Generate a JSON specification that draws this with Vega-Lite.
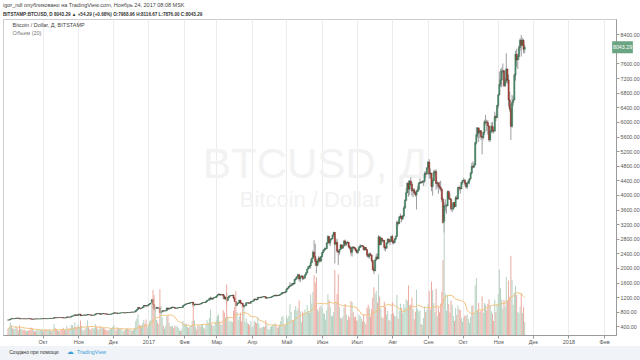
{
"$schema":"https://vega.github.io/schema/vega-lite/v6.json",
"width":613,"height":316,
"autosize":"none",
"padding":{"left":3,"top":19,"right":24,"bottom":25},
"background":"white",
"config":{"view":{"stroke":"#c9cdd2"},"font":"Liberation Sans","axis":{"labelOverlap":false},"axisY":{"labelOverlap":false,"labelFontSize":5.3,"labelColor":"#555","tickSize":3,"tickColor":"#9a9a9a","domainColor":"#9a9a9a","gridColor":"#ececec","labelPadding":1}},
"title":{"text":"igor_ndl опубликовано на TradingView.com, Ноябрь 24, 2017 08:08 MSK","subtitle":"BITSTAMP:BTCUSD, D 8043.29 ▲ +54.29 (+0.68%) O:7988.96 H:8116.67 L:7876.00 C:8043.29","anchor":"start","frame":"group","fontSize":5.5,"fontWeight":"normal","color":"#444","subtitleFontSize":4.6,"subtitleFontWeight":"bold","subtitleColor":"#333","offset":2,"subtitlePadding":4,"font":"Liberation Sans","subtitleFont":"Liberation Sans"},
"datasets":{"btc":[
{"d":"2016-09-01","o":573,"h":575,"l":569,"c":572,"v":4.1},
{"d":"2016-09-02","o":572,"h":577,"l":570,"c":575,"v":4.5},
{"d":"2016-09-03","o":575,"h":603,"l":574,"c":600,"v":7.8},
{"d":"2016-09-04","o":600,"h":612,"l":598,"c":610,"v":6.2},
{"d":"2016-09-05","o":610,"h":611,"l":602,"c":606,"v":4.3},
{"d":"2016-09-06","o":606,"h":612,"l":604,"c":610,"v":4.0},
{"d":"2016-09-07","o":610,"h":615,"l":607,"c":613,"v":3.9},
{"d":"2016-09-08","o":613,"h":628,"l":612,"c":627,"v":5.5},
{"d":"2016-09-09","o":627,"h":628,"l":619,"c":623,"v":4.2},
{"d":"2016-09-10","o":623,"h":626,"l":620,"c":624,"v":2.9},
{"d":"2016-09-11","o":624,"h":628,"l":598,"c":606,"v":6.1},
{"d":"2016-09-12","o":606,"h":610,"l":604,"c":608,"v":4.0},
{"d":"2016-09-13","o":608,"h":611,"l":606,"c":609,"v":3.6},
{"d":"2016-09-14","o":609,"h":612,"l":607,"c":608,"v":3.1},
{"d":"2016-09-15","o":608,"h":610,"l":604,"c":607,"v":3.3},
{"d":"2016-09-16","o":607,"h":609,"l":604,"c":606,"v":3.0},
{"d":"2016-09-17","o":606,"h":608,"l":603,"c":606,"v":2.4},
{"d":"2016-09-18","o":606,"h":612,"l":605,"c":611,"v":2.6},
{"d":"2016-09-19","o":611,"h":612,"l":607,"c":609,"v":3.2},
{"d":"2016-09-20","o":609,"h":611,"l":606,"c":608,"v":3.0},
{"d":"2016-09-21","o":608,"h":609,"l":594,"c":597,"v":4.8},
{"d":"2016-09-22","o":597,"h":599,"l":592,"c":595,"v":3.9},
{"d":"2016-09-23","o":595,"h":603,"l":594,"c":602,"v":3.1},
{"d":"2016-09-24","o":602,"h":604,"l":600,"c":601,"v":2.2},
{"d":"2016-09-25","o":601,"h":603,"l":598,"c":600,"v":2.3},
{"d":"2016-09-26","o":600,"h":606,"l":599,"c":604,"v":3.4},
{"d":"2016-09-27","o":604,"h":606,"l":602,"c":604,"v":3.0},
{"d":"2016-09-28","o":604,"h":606,"l":602,"c":604,"v":2.9},
{"d":"2016-09-29","o":604,"h":607,"l":602,"c":604,"v":3.3},
{"d":"2016-09-30","o":604,"h":608,"l":603,"c":606,"v":3.5},
{"d":"2016-10-01","o":606,"h":614,"l":605,"c":612,"v":3.0},
{"d":"2016-10-02","o":612,"h":613,"l":608,"c":610,"v":2.2},
{"d":"2016-10-03","o":610,"h":613,"l":609,"c":611,"v":3.1},
{"d":"2016-10-04","o":611,"h":612,"l":606,"c":609,"v":3.6},
{"d":"2016-10-05","o":609,"h":613,"l":608,"c":611,"v":3.4},
{"d":"2016-10-06","o":611,"h":613,"l":609,"c":611,"v":3.0},
{"d":"2016-10-07","o":611,"h":619,"l":610,"c":616,"v":3.8},
{"d":"2016-10-08","o":616,"h":620,"l":615,"c":618,"v":2.5},
{"d":"2016-10-09","o":618,"h":619,"l":614,"c":617,"v":2.3},
{"d":"2016-10-10","o":617,"h":619,"l":615,"c":617,"v":3.2},
{"d":"2016-10-11","o":617,"h":642,"l":616,"c":640,"v":6.9},
{"d":"2016-10-12","o":640,"h":641,"l":632,"c":637,"v":4.5},
{"d":"2016-10-13","o":637,"h":638,"l":632,"c":635,"v":3.9},
{"d":"2016-10-14","o":635,"h":641,"l":634,"c":639,"v":3.0},
{"d":"2016-10-15","o":639,"h":641,"l":634,"c":638,"v":2.6},
{"d":"2016-10-16","o":638,"h":643,"l":636,"c":641,"v":2.4},
{"d":"2016-10-17","o":641,"h":642,"l":636,"c":638,"v":3.5},
{"d":"2016-10-18","o":638,"h":640,"l":635,"c":637,"v":3.2},
{"d":"2016-10-19","o":637,"h":638,"l":626,"c":630,"v":4.6},
{"d":"2016-10-20","o":630,"h":632,"l":627,"c":629,"v":3.4},
{"d":"2016-10-21","o":629,"h":633,"l":628,"c":631,"v":2.8},
{"d":"2016-10-22","o":631,"h":660,"l":630,"c":657,"v":5.9},
{"d":"2016-10-23","o":657,"h":659,"l":650,"c":655,"v":3.8},
{"d":"2016-10-24","o":655,"h":656,"l":648,"c":651,"v":4.0},
{"d":"2016-10-25","o":651,"h":660,"l":649,"c":654,"v":4.6},
{"d":"2016-10-26","o":654,"h":678,"l":652,"c":675,"v":6.4},
{"d":"2016-10-27","o":675,"h":688,"l":673,"c":685,"v":6.1},
{"d":"2016-10-28","o":685,"h":690,"l":682,"c":688,"v":4.7},
{"d":"2016-10-29","o":688,"h":720,"l":686,"c":715,"v":7.9},
{"d":"2016-10-30","o":715,"h":716,"l":696,"c":700,"v":5.0},
{"d":"2016-10-31","o":700,"h":705,"l":693,"c":698,"v":5.2},
{"d":"2016-11-01","o":698,"h":731,"l":696,"c":729,"v":6.6},
{"d":"2016-11-02","o":729,"h":738,"l":726,"c":732,"v":5.3},
{"d":"2016-11-03","o":732,"h":743,"l":684,"c":690,"v":9.1},
{"d":"2016-11-04","o":690,"h":705,"l":686,"c":703,"v":5.7},
{"d":"2016-11-05","o":703,"h":707,"l":699,"c":704,"v":3.0},
{"d":"2016-11-06","o":704,"h":713,"l":701,"c":712,"v":2.8},
{"d":"2016-11-07","o":712,"h":713,"l":701,"c":706,"v":4.1},
{"d":"2016-11-08","o":706,"h":713,"l":704,"c":710,"v":4.8},
{"d":"2016-11-09","o":710,"h":740,"l":705,"c":722,"v":9.4},
{"d":"2016-11-10","o":722,"h":724,"l":711,"c":714,"v":4.9},
{"d":"2016-11-11","o":714,"h":718,"l":711,"c":715,"v":3.6},
{"d":"2016-11-12","o":715,"h":716,"l":702,"c":704,"v":3.4},
{"d":"2016-11-13","o":704,"h":706,"l":686,"c":701,"v":4.4},
{"d":"2016-11-14","o":701,"h":709,"l":698,"c":706,"v":4.1},
{"d":"2016-11-15","o":706,"h":716,"l":704,"c":712,"v":4.2},
{"d":"2016-11-16","o":712,"h":745,"l":710,"c":742,"v":6.8},
{"d":"2016-11-17","o":742,"h":748,"l":734,"c":740,"v":5.3},
{"d":"2016-11-18","o":740,"h":752,"l":737,"c":750,"v":3.9},
{"d":"2016-11-19","o":750,"h":755,"l":744,"c":751,"v":3.1},
{"d":"2016-11-20","o":751,"h":752,"l":718,"c":730,"v":5.6},
{"d":"2016-11-21","o":730,"h":740,"l":727,"c":738,"v":4.1},
{"d":"2016-11-22","o":738,"h":752,"l":735,"c":749,"v":5.0},
{"d":"2016-11-23","o":749,"h":750,"l":738,"c":743,"v":4.3},
{"d":"2016-11-24","o":743,"h":745,"l":732,"c":741,"v":4.0},
{"d":"2016-11-25","o":741,"h":743,"l":733,"c":738,"v":3.1},
{"d":"2016-11-26","o":738,"h":740,"l":724,"c":733,"v":3.0},
{"d":"2016-11-27","o":733,"h":736,"l":722,"c":727,"v":2.9},
{"d":"2016-11-28","o":727,"h":736,"l":725,"c":732,"v":3.5},
{"d":"2016-11-29","o":732,"h":737,"l":728,"c":732,"v":3.6},
{"d":"2016-11-30","o":732,"h":745,"l":730,"c":741,"v":4.4},
{"d":"2016-12-01","o":741,"h":756,"l":739,"c":752,"v":5.1},
{"d":"2016-12-02","o":752,"h":775,"l":750,"c":770,"v":6.4},
{"d":"2016-12-03","o":770,"h":772,"l":755,"c":763,"v":3.5},
{"d":"2016-12-04","o":763,"h":768,"l":758,"c":766,"v":2.9},
{"d":"2016-12-05","o":766,"h":768,"l":748,"c":754,"v":4.8},
{"d":"2016-12-06","o":754,"h":760,"l":751,"c":758,"v":3.9},
{"d":"2016-12-07","o":758,"h":767,"l":755,"c":765,"v":4.1},
{"d":"2016-12-08","o":765,"h":771,"l":762,"c":770,"v":4.0},
{"d":"2016-12-09","o":770,"h":774,"l":767,"c":772,"v":3.4},
{"d":"2016-12-10","o":772,"h":776,"l":770,"c":774,"v":2.4},
{"d":"2016-12-11","o":774,"h":775,"l":762,"c":768,"v":2.9},
{"d":"2016-12-12","o":768,"h":772,"l":765,"c":768,"v":3.6},
{"d":"2016-12-13","o":768,"h":782,"l":766,"c":780,"v":4.5},
{"d":"2016-12-14","o":780,"h":781,"l":772,"c":777,"v":3.9},
{"d":"2016-12-15","o":777,"h":780,"l":772,"c":776,"v":3.5},
{"d":"2016-12-16","o":776,"h":786,"l":775,"c":783,"v":3.3},
{"d":"2016-12-17","o":783,"h":792,"l":781,"c":790,"v":3.0},
{"d":"2016-12-18","o":790,"h":793,"l":785,"c":789,"v":2.7},
{"d":"2016-12-19","o":789,"h":792,"l":786,"c":790,"v":3.3},
{"d":"2016-12-20","o":790,"h":799,"l":788,"c":795,"v":4.6},
{"d":"2016-12-21","o":795,"h":835,"l":794,"c":831,"v":8.9},
{"d":"2016-12-22","o":831,"h":870,"l":825,"c":860,"v":10.5},
{"d":"2016-12-23","o":860,"h":925,"l":858,"c":918,"v":13.2},
{"d":"2016-12-24","o":918,"h":920,"l":881,"c":894,"v":6.5},
{"d":"2016-12-25","o":894,"h":896,"l":855,"c":893,"v":6.2},
{"d":"2016-12-26","o":893,"h":908,"l":888,"c":901,"v":5.8},
{"d":"2016-12-27","o":901,"h":935,"l":898,"c":924,"v":7.4},
{"d":"2016-12-28","o":924,"h":975,"l":922,"c":972,"v":9.5},
{"d":"2016-12-29","o":972,"h":977,"l":955,"c":970,"v":7.2},
{"d":"2016-12-30","o":970,"h":972,"l":920,"c":958,"v":9.8},
{"d":"2016-12-31","o":958,"h":968,"l":950,"c":964,"v":4.9},
{"d":"2017-01-01","o":964,"h":1000,"l":962,"c":997,"v":6.3},
{"d":"2017-01-02","o":997,"h":1030,"l":993,"c":1018,"v":8.6},
{"d":"2017-01-03","o":1018,"h":1035,"l":1010,"c":1030,"v":9.5},
{"d":"2017-01-04","o":1030,"h":1140,"l":1028,"c":1130,"v":20.5},
{"d":"2017-01-05","o":1130,"h":1150,"l":870,"c":995,"v":28.5},
{"d":"2017-01-06","o":995,"h":1000,"l":850,"c":890,"v":25.1},
{"d":"2017-01-07","o":890,"h":905,"l":810,"c":900,"v":17.8},
{"d":"2017-01-08","o":900,"h":935,"l":880,"c":910,"v":9.6},
{"d":"2017-01-09","o":910,"h":913,"l":880,"c":900,"v":7.9},
{"d":"2017-01-10","o":900,"h":910,"l":890,"c":905,"v":6.8},
{"d":"2017-01-11","o":905,"h":918,"l":750,"c":780,"v":29.0},
{"d":"2017-01-12","o":780,"h":820,"l":740,"c":805,"v":18.4},
{"d":"2017-01-13","o":805,"h":830,"l":770,"c":825,"v":11.2},
{"d":"2017-01-14","o":825,"h":835,"l":805,"c":820,"v":5.9},
{"d":"2017-01-15","o":820,"h":823,"l":808,"c":820,"v":4.0},
{"d":"2017-01-16","o":820,"h":833,"l":816,"c":828,"v":5.5},
{"d":"2017-01-17","o":828,"h":910,"l":825,"c":903,"v":11.8},
{"d":"2017-01-18","o":903,"h":905,"l":850,"c":870,"v":12.1},
{"d":"2017-01-19","o":870,"h":905,"l":868,"c":898,"v":7.6},
{"d":"2017-01-20","o":898,"h":900,"l":880,"c":891,"v":5.4},
{"d":"2017-01-21","o":891,"h":925,"l":888,"c":920,"v":5.7},
{"d":"2017-01-22","o":920,"h":938,"l":897,"c":925,"v":5.9},
{"d":"2017-01-23","o":925,"h":928,"l":910,"c":916,"v":4.3},
{"d":"2017-01-24","o":916,"h":920,"l":888,"c":894,"v":6.0},
{"d":"2017-01-25","o":894,"h":900,"l":885,"c":895,"v":5.1},
{"d":"2017-01-26","o":895,"h":918,"l":892,"c":901,"v":5.8},
{"d":"2017-01-27","o":901,"h":915,"l":897,"c":910,"v":4.4},
{"d":"2017-01-28","o":910,"h":920,"l":905,"c":917,"v":2.9},
{"d":"2017-01-29","o":917,"h":918,"l":905,"c":912,"v":2.6},
{"d":"2017-01-30","o":912,"h":922,"l":910,"c":918,"v":3.7},
{"d":"2017-01-31","o":918,"h":970,"l":915,"c":965,"v":9.0},
{"d":"2017-02-01","o":965,"h":990,"l":960,"c":985,"v":7.3},
{"d":"2017-02-02","o":985,"h":1010,"l":980,"c":1005,"v":6.9},
{"d":"2017-02-03","o":1005,"h":1022,"l":1000,"c":1015,"v":7.1},
{"d":"2017-02-04","o":1015,"h":1040,"l":1010,"c":1030,"v":5.0},
{"d":"2017-02-05","o":1030,"h":1035,"l":1010,"c":1025,"v":4.4},
{"d":"2017-02-06","o":1025,"h":1050,"l":1020,"c":1045,"v":5.6},
{"d":"2017-02-07","o":1045,"h":1058,"l":1040,"c":1052,"v":6.0},
{"d":"2017-02-08","o":1052,"h":1070,"l":1035,"c":1060,"v":8.7},
{"d":"2017-02-09","o":1060,"h":1065,"l":920,"c":980,"v":19.3},
{"d":"2017-02-10","o":980,"h":1000,"l":960,"c":995,"v":9.1},
{"d":"2017-02-11","o":995,"h":1015,"l":990,"c":1010,"v":5.0},
{"d":"2017-02-12","o":1010,"h":1012,"l":992,"c":1000,"v":3.5},
{"d":"2017-02-13","o":1000,"h":1005,"l":980,"c":995,"v":5.8},
{"d":"2017-02-14","o":995,"h":1015,"l":990,"c":1012,"v":6.1},
{"d":"2017-02-15","o":1012,"h":1015,"l":1004,"c":1010,"v":5.2},
{"d":"2017-02-16","o":1010,"h":1040,"l":1008,"c":1035,"v":6.9},
{"d":"2017-02-17","o":1035,"h":1055,"l":1030,"c":1050,"v":6.7},
{"d":"2017-02-18","o":1050,"h":1065,"l":1045,"c":1055,"v":4.6},
{"d":"2017-02-19","o":1055,"h":1058,"l":1040,"c":1050,"v":3.9},
{"d":"2017-02-20","o":1050,"h":1085,"l":1045,"c":1080,"v":6.2},
{"d":"2017-02-21","o":1080,"h":1120,"l":1075,"c":1115,"v":9.4},
{"d":"2017-02-22","o":1115,"h":1125,"l":1100,"c":1118,"v":7.5},
{"d":"2017-02-23","o":1118,"h":1175,"l":1112,"c":1170,"v":10.8},
{"d":"2017-02-24","o":1170,"h":1210,"l":1110,"c":1175,"v":16.2},
{"d":"2017-02-25","o":1175,"h":1180,"l":1135,"c":1145,"v":6.8},
{"d":"2017-02-26","o":1145,"h":1178,"l":1120,"c":1175,"v":5.5},
{"d":"2017-02-27","o":1175,"h":1195,"l":1170,"c":1190,"v":5.9},
{"d":"2017-02-28","o":1190,"h":1210,"l":1180,"c":1190,"v":8.0},
{"d":"2017-03-01","o":1190,"h":1230,"l":1185,"c":1225,"v":9.7},
{"d":"2017-03-02","o":1225,"h":1270,"l":1220,"c":1260,"v":12.0},
{"d":"2017-03-03","o":1260,"h":1295,"l":1255,"c":1285,"v":13.1},
{"d":"2017-03-04","o":1285,"h":1290,"l":1240,"c":1265,"v":8.4},
{"d":"2017-03-05","o":1265,"h":1275,"l":1230,"c":1270,"v":6.3},
{"d":"2017-03-06","o":1270,"h":1280,"l":1260,"c":1275,"v":6.9},
{"d":"2017-03-07","o":1275,"h":1278,"l":1150,"c":1235,"v":15.6},
{"d":"2017-03-08","o":1235,"h":1245,"l":1135,"c":1150,"v":14.2},
{"d":"2017-03-09","o":1150,"h":1200,"l":1140,"c":1195,"v":11.0},
{"d":"2017-03-10","o":1195,"h":1330,"l":980,"c":1110,"v":32.0},
{"d":"2017-03-11","o":1110,"h":1200,"l":1100,"c":1180,"v":11.7},
{"d":"2017-03-12","o":1180,"h":1235,"l":1175,"c":1230,"v":8.4},
{"d":"2017-03-13","o":1230,"h":1245,"l":1215,"c":1240,"v":9.2},
{"d":"2017-03-14","o":1240,"h":1255,"l":1225,"c":1245,"v":8.5},
{"d":"2017-03-15","o":1245,"h":1260,"l":1240,"c":1255,"v":8.1},
{"d":"2017-03-16","o":1255,"h":1260,"l":1150,"c":1175,"v":15.4},
{"d":"2017-03-17","o":1175,"h":1180,"l":1070,"c":1080,"v":17.9},
{"d":"2017-03-18","o":1080,"h":1095,"l":940,"c":970,"v":28.0},
{"d":"2017-03-19","o":970,"h":1060,"l":965,"c":1020,"v":14.6},
{"d":"2017-03-20","o":1020,"h":1055,"l":1010,"c":1040,"v":9.5},
{"d":"2017-03-21","o":1040,"h":1120,"l":1035,"c":1115,"v":11.8},
{"d":"2017-03-22","o":1115,"h":1118,"l":1000,"c":1040,"v":14.3},
{"d":"2017-03-23","o":1040,"h":1050,"l":1020,"c":1030,"v":8.6},
{"d":"2017-03-24","o":1030,"h":1035,"l":920,"c":935,"v":18.5},
{"d":"2017-03-25","o":935,"h":980,"l":890,"c":965,"v":17.0},
{"d":"2017-03-26","o":965,"h":1000,"l":950,"c":970,"v":8.2},
{"d":"2017-03-27","o":970,"h":1050,"l":965,"c":1045,"v":10.4},
{"d":"2017-03-28","o":1045,"h":1060,"l":1030,"c":1045,"v":7.8},
{"d":"2017-03-29","o":1045,"h":1055,"l":1015,"c":1040,"v":6.9},
{"d":"2017-03-30","o":1040,"h":1045,"l":1020,"c":1035,"v":6.1},
{"d":"2017-03-31","o":1035,"h":1085,"l":1030,"c":1080,"v":8.7},
{"d":"2017-04-01","o":1080,"h":1095,"l":1075,"c":1085,"v":4.9},
{"d":"2017-04-02","o":1085,"h":1105,"l":1080,"c":1100,"v":5.6},
{"d":"2017-04-03","o":1100,"h":1150,"l":1095,"c":1145,"v":9.0},
{"d":"2017-04-04","o":1145,"h":1160,"l":1125,"c":1140,"v":8.1},
{"d":"2017-04-05","o":1140,"h":1145,"l":1110,"c":1130,"v":7.5},
{"d":"2017-04-06","o":1130,"h":1200,"l":1125,"c":1190,"v":11.2},
{"d":"2017-04-07","o":1190,"h":1200,"l":1170,"c":1195,"v":7.3},
{"d":"2017-04-08","o":1195,"h":1198,"l":1170,"c":1185,"v":4.6},
{"d":"2017-04-09","o":1185,"h":1210,"l":1180,"c":1200,"v":4.5},
{"d":"2017-04-10","o":1200,"h":1212,"l":1195,"c":1205,"v":5.1},
{"d":"2017-04-11","o":1205,"h":1225,"l":1200,"c":1215,"v":5.4},
{"d":"2017-04-12","o":1215,"h":1220,"l":1200,"c":1210,"v":5.0},
{"d":"2017-04-13","o":1210,"h":1215,"l":1160,"c":1170,"v":9.3},
{"d":"2017-04-14","o":1170,"h":1190,"l":1165,"c":1180,"v":6.4},
{"d":"2017-04-15","o":1180,"h":1190,"l":1170,"c":1180,"v":3.8},
{"d":"2017-04-16","o":1180,"h":1190,"l":1175,"c":1185,"v":3.1},
{"d":"2017-04-17","o":1185,"h":1200,"l":1180,"c":1195,"v":5.0},
{"d":"2017-04-18","o":1195,"h":1215,"l":1190,"c":1210,"v":5.6},
{"d":"2017-04-19","o":1210,"h":1230,"l":1205,"c":1225,"v":6.2},
{"d":"2017-04-20","o":1225,"h":1250,"l":1220,"c":1245,"v":7.0},
{"d":"2017-04-21","o":1245,"h":1265,"l":1240,"c":1255,"v":7.4},
{"d":"2017-04-22","o":1255,"h":1260,"l":1215,"c":1235,"v":6.1},
{"d":"2017-04-23","o":1235,"h":1255,"l":1230,"c":1250,"v":4.4},
{"d":"2017-04-24","o":1250,"h":1255,"l":1235,"c":1245,"v":5.3},
{"d":"2017-04-25","o":1245,"h":1270,"l":1240,"c":1265,"v":6.6},
{"d":"2017-04-26","o":1265,"h":1295,"l":1260,"c":1285,"v":8.9},
{"d":"2017-04-27","o":1285,"h":1330,"l":1280,"c":1320,"v":11.6},
{"d":"2017-04-28","o":1320,"h":1345,"l":1290,"c":1325,"v":11.9},
{"d":"2017-04-29","o":1325,"h":1330,"l":1305,"c":1320,"v":6.0},
{"d":"2017-04-30","o":1320,"h":1355,"l":1310,"c":1350,"v":6.5},
{"d":"2017-05-01","o":1350,"h":1440,"l":1345,"c":1420,"v":12.4},
{"d":"2017-05-02","o":1420,"h":1460,"l":1405,"c":1450,"v":10.5},
{"d":"2017-05-03","o":1450,"h":1505,"l":1440,"c":1495,"v":12.0},
{"d":"2017-05-04","o":1495,"h":1610,"l":1480,"c":1510,"v":19.5},
{"d":"2017-05-05","o":1510,"h":1560,"l":1490,"c":1525,"v":14.6},
{"d":"2017-05-06","o":1525,"h":1580,"l":1520,"c":1570,"v":9.7},
{"d":"2017-05-07","o":1570,"h":1590,"l":1530,"c":1560,"v":9.2},
{"d":"2017-05-08","o":1560,"h":1690,"l":1555,"c":1685,"v":15.8},
{"d":"2017-05-09","o":1685,"h":1745,"l":1650,"c":1700,"v":18.3},
{"d":"2017-05-10","o":1700,"h":1770,"l":1690,"c":1760,"v":15.4},
{"d":"2017-05-11","o":1760,"h":1840,"l":1750,"c":1815,"v":16.7},
{"d":"2017-05-12","o":1815,"h":1830,"l":1630,"c":1695,"v":21.8},
{"d":"2017-05-13","o":1695,"h":1780,"l":1610,"c":1760,"v":15.0},
{"d":"2017-05-14","o":1760,"h":1800,"l":1740,"c":1780,"v":8.1},
{"d":"2017-05-15","o":1780,"h":1785,"l":1660,"c":1715,"v":14.9},
{"d":"2017-05-16","o":1715,"h":1765,"l":1670,"c":1720,"v":13.7},
{"d":"2017-05-17","o":1720,"h":1830,"l":1715,"c":1805,"v":16.1},
{"d":"2017-05-18","o":1805,"h":1890,"l":1790,"c":1865,"v":14.3},
{"d":"2017-05-19","o":1865,"h":1980,"l":1860,"c":1970,"v":18.8},
{"d":"2017-05-20","o":1970,"h":2050,"l":1965,"c":2040,"v":15.2},
{"d":"2017-05-21","o":2040,"h":2080,"l":1980,"c":2050,"v":14.0},
{"d":"2017-05-22","o":2050,"h":2230,"l":1980,"c":2140,"v":25.6},
{"d":"2017-05-23","o":2140,"h":2280,"l":2130,"c":2260,"v":19.9},
{"d":"2017-05-24","o":2260,"h":2480,"l":2250,"c":2430,"v":27.4},
{"d":"2017-05-25","o":2430,"h":2760,"l":2320,"c":2310,"v":38.0},
{"d":"2017-05-26","o":2310,"h":2660,"l":2060,"c":2180,"v":33.2},
{"d":"2017-05-27","o":2180,"h":2250,"l":1850,"c":2070,"v":36.5},
{"d":"2017-05-28","o":2070,"h":2230,"l":2050,"c":2180,"v":16.3},
{"d":"2017-05-29","o":2180,"h":2330,"l":2130,"c":2270,"v":15.1},
{"d":"2017-05-30","o":2270,"h":2300,"l":2150,"c":2190,"v":17.5},
{"d":"2017-05-31","o":2190,"h":2330,"l":2160,"c":2310,"v":18.9},
{"d":"2017-06-01","o":2310,"h":2440,"l":2300,"c":2420,"v":17.2},
{"d":"2017-06-02","o":2420,"h":2500,"l":2400,"c":2490,"v":14.1},
{"d":"2017-06-03","o":2490,"h":2560,"l":2450,"c":2520,"v":13.3},
{"d":"2017-06-04","o":2520,"h":2550,"l":2480,"c":2525,"v":9.8},
{"d":"2017-06-05","o":2525,"h":2700,"l":2520,"c":2680,"v":15.6},
{"d":"2017-06-06","o":2680,"h":2900,"l":2670,"c":2860,"v":25.8},
{"d":"2017-06-07","o":2860,"h":2875,"l":2640,"c":2690,"v":22.0},
{"d":"2017-06-08","o":2690,"h":2800,"l":2600,"c":2780,"v":17.5},
{"d":"2017-06-09","o":2780,"h":2820,"l":2750,"c":2800,"v":12.4},
{"d":"2017-06-10","o":2800,"h":2910,"l":2790,"c":2900,"v":11.8},
{"d":"2017-06-11","o":2900,"h":2995,"l":2860,"c":2970,"v":14.6},
{"d":"2017-06-12","o":2970,"h":2980,"l":2120,"c":2650,"v":41.2},
{"d":"2017-06-13","o":2650,"h":2780,"l":2640,"c":2700,"v":20.4},
{"d":"2017-06-14","o":2700,"h":2800,"l":2410,"c":2460,"v":26.1},
{"d":"2017-06-15","o":2460,"h":2480,"l":2080,"c":2430,"v":38.5},
{"d":"2017-06-16","o":2430,"h":2520,"l":2350,"c":2500,"v":17.8},
{"d":"2017-06-17","o":2500,"h":2650,"l":2490,"c":2630,"v":11.0},
{"d":"2017-06-18","o":2630,"h":2650,"l":2520,"c":2540,"v":10.3},
{"d":"2017-06-19","o":2540,"h":2620,"l":2530,"c":2600,"v":11.7},
{"d":"2017-06-20","o":2600,"h":2760,"l":2590,"c":2740,"v":17.4},
{"d":"2017-06-21","o":2740,"h":2780,"l":2590,"c":2650,"v":19.6},
{"d":"2017-06-22","o":2650,"h":2710,"l":2600,"c":2690,"v":13.0},
{"d":"2017-06-23","o":2690,"h":2740,"l":2670,"c":2700,"v":9.4},
{"d":"2017-06-24","o":2700,"h":2710,"l":2540,"c":2580,"v":11.8},
{"d":"2017-06-25","o":2580,"h":2630,"l":2500,"c":2540,"v":11.1},
{"d":"2017-06-26","o":2540,"h":2560,"l":2340,"c":2430,"v":21.5},
{"d":"2017-06-27","o":2430,"h":2580,"l":2310,"c":2570,"v":20.9},
{"d":"2017-06-28","o":2570,"h":2600,"l":2500,"c":2560,"v":14.4},
{"d":"2017-06-29","o":2560,"h":2580,"l":2510,"c":2540,"v":11.3},
{"d":"2017-06-30","o":2540,"h":2560,"l":2460,"c":2470,"v":11.5},
{"d":"2017-07-01","o":2470,"h":2520,"l":2400,"c":2420,"v":9.0},
{"d":"2017-07-02","o":2420,"h":2510,"l":2380,"c":2480,"v":9.4},
{"d":"2017-07-03","o":2480,"h":2600,"l":2470,"c":2560,"v":12.8},
{"d":"2017-07-04","o":2560,"h":2650,"l":2550,"c":2600,"v":11.9},
{"d":"2017-07-05","o":2600,"h":2630,"l":2560,"c":2610,"v":10.5},
{"d":"2017-07-06","o":2610,"h":2620,"l":2580,"c":2600,"v":8.7},
{"d":"2017-07-07","o":2600,"h":2605,"l":2480,"c":2500,"v":12.6},
{"d":"2017-07-08","o":2500,"h":2570,"l":2460,"c":2560,"v":8.3},
{"d":"2017-07-09","o":2560,"h":2570,"l":2490,"c":2500,"v":6.9},
{"d":"2017-07-10","o":2500,"h":2510,"l":2300,"c":2350,"v":17.2},
{"d":"2017-07-11","o":2350,"h":2410,"l":2270,"c":2310,"v":19.1},
{"d":"2017-07-12","o":2310,"h":2420,"l":2250,"c":2380,"v":17.3},
{"d":"2017-07-13","o":2380,"h":2420,"l":2330,"c":2350,"v":11.5},
{"d":"2017-07-14","o":2350,"h":2360,"l":2150,"c":2200,"v":16.4},
{"d":"2017-07-15","o":2200,"h":2210,"l":1940,"c":1950,"v":23.7},
{"d":"2017-07-16","o":1950,"h":2050,"l":1830,"c":1920,"v":30.3},
{"d":"2017-07-17","o":1920,"h":2240,"l":1910,"c":2220,"v":25.8},
{"d":"2017-07-18","o":2220,"h":2390,"l":2200,"c":2300,"v":27.9},
{"d":"2017-07-19","o":2300,"h":2400,"l":2250,"c":2250,"v":20.6},
{"d":"2017-07-20","o":2250,"h":2900,"l":2240,"c":2850,"v":38.4},
{"d":"2017-07-21","o":2850,"h":2860,"l":2620,"c":2640,"v":24.3},
{"d":"2017-07-22","o":2640,"h":2860,"l":2620,"c":2810,"v":16.8},
{"d":"2017-07-23","o":2810,"h":2820,"l":2690,"c":2740,"v":11.2},
{"d":"2017-07-24","o":2740,"h":2780,"l":2700,"c":2750,"v":10.6},
{"d":"2017-07-25","o":2750,"h":2770,"l":2480,"c":2560,"v":21.1},
{"d":"2017-07-26","o":2560,"h":2610,"l":2450,"c":2540,"v":17.9},
{"d":"2017-07-27","o":2540,"h":2700,"l":2530,"c":2680,"v":12.9},
{"d":"2017-07-28","o":2680,"h":2810,"l":2660,"c":2790,"v":15.2},
{"d":"2017-07-29","o":2790,"h":2800,"l":2690,"c":2720,"v":9.5},
{"d":"2017-07-30","o":2720,"h":2760,"l":2620,"c":2740,"v":8.9},
{"d":"2017-07-31","o":2740,"h":2880,"l":2720,"c":2860,"v":13.3},
{"d":"2017-08-01","o":2860,"h":2910,"l":2650,"c":2710,"v":20.8},
{"d":"2017-08-02","o":2710,"h":2760,"l":2650,"c":2690,"v":13.5},
{"d":"2017-08-03","o":2690,"h":2810,"l":2680,"c":2790,"v":12.1},
{"d":"2017-08-04","o":2790,"h":2890,"l":2760,"c":2860,"v":11.7},
{"d":"2017-08-05","o":2860,"h":3300,"l":2850,"c":3250,"v":25.4},
{"d":"2017-08-06","o":3250,"h":3270,"l":3160,"c":3220,"v":10.5},
{"d":"2017-08-07","o":3220,"h":3420,"l":3200,"c":3390,"v":15.3},
{"d":"2017-08-08","o":3390,"h":3490,"l":3350,"c":3420,"v":19.7},
{"d":"2017-08-09","o":3420,"h":3430,"l":3250,"c":3340,"v":17.2},
{"d":"2017-08-10","o":3340,"h":3450,"l":3320,"c":3420,"v":14.1},
{"d":"2017-08-11","o":3420,"h":3700,"l":3400,"c":3640,"v":19.6},
{"d":"2017-08-12","o":3640,"h":3890,"l":3620,"c":3850,"v":17.4},
{"d":"2017-08-13","o":3850,"h":4180,"l":3840,"c":4060,"v":22.5},
{"d":"2017-08-14","o":4060,"h":4340,"l":4050,"c":4320,"v":21.6},
{"d":"2017-08-15","o":4320,"h":4400,"l":3950,"c":4160,"v":31.4},
{"d":"2017-08-16","o":4160,"h":4400,"l":3990,"c":4380,"v":18.9},
{"d":"2017-08-17","o":4380,"h":4480,"l":4250,"c":4290,"v":19.3},
{"d":"2017-08-18","o":4290,"h":4360,"l":3980,"c":4110,"v":23.8},
{"d":"2017-08-19","o":4110,"h":4190,"l":3940,"c":4140,"v":16.4},
{"d":"2017-08-20","o":4140,"h":4180,"l":4030,"c":4060,"v":9.9},
{"d":"2017-08-21","o":4060,"h":4100,"l":3950,"c":4000,"v":14.7},
{"d":"2017-08-22","o":4000,"h":4140,"l":3600,"c":4090,"v":28.6},
{"d":"2017-08-23","o":4090,"h":4250,"l":4080,"c":4140,"v":16.3},
{"d":"2017-08-24","o":4140,"h":4350,"l":4130,"c":4320,"v":14.8},
{"d":"2017-08-25","o":4320,"h":4460,"l":4300,"c":4350,"v":15.5},
{"d":"2017-08-26","o":4350,"h":4380,"l":4300,"c":4340,"v":6.9},
{"d":"2017-08-27","o":4340,"h":4400,"l":4320,"c":4370,"v":6.4},
{"d":"2017-08-28","o":4370,"h":4390,"l":4250,"c":4380,"v":10.8},
{"d":"2017-08-29","o":4380,"h":4640,"l":4330,"c":4580,"v":18.2},
{"d":"2017-08-30","o":4580,"h":4640,"l":4470,"c":4570,"v":14.6},
{"d":"2017-08-31","o":4570,"h":4760,"l":4560,"c":4740,"v":15.9},
{"d":"2017-09-01","o":4740,"h":4930,"l":4720,"c":4900,"v":19.5},
{"d":"2017-09-02","o":4900,"h":4980,"l":4450,"c":4570,"v":27.8},
{"d":"2017-09-03","o":4570,"h":4720,"l":4440,"c":4600,"v":16.1},
{"d":"2017-09-04","o":4600,"h":4600,"l":4100,"c":4230,"v":33.7},
{"d":"2017-09-05","o":4230,"h":4460,"l":3980,"c":4390,"v":28.4},
{"d":"2017-09-06","o":4390,"h":4680,"l":4380,"c":4620,"v":20.3},
{"d":"2017-09-07","o":4620,"h":4690,"l":4540,"c":4640,"v":14.6},
{"d":"2017-09-08","o":4640,"h":4700,"l":4140,"c":4310,"v":29.2},
{"d":"2017-09-09","o":4310,"h":4380,"l":4190,"c":4330,"v":11.8},
{"d":"2017-09-10","o":4330,"h":4330,"l":4030,"c":4250,"v":17.5},
{"d":"2017-09-11","o":4250,"h":4360,"l":4150,"c":4210,"v":14.4},
{"d":"2017-09-12","o":4210,"h":4390,"l":4100,"c":4160,"v":19.9},
{"d":"2017-09-13","o":4160,"h":4170,"l":3800,"c":3880,"v":27.3},
{"d":"2017-09-14","o":3880,"h":3930,"l":3220,"c":3240,"v":47.5},
{"d":"2017-09-15","o":3240,"h":3800,"l":2970,"c":3700,"v":72.0},
{"d":"2017-09-16","o":3700,"h":3880,"l":3550,"c":3700,"v":26.2},
{"d":"2017-09-17","o":3700,"h":3760,"l":3480,"c":3700,"v":15.4},
{"d":"2017-09-18","o":3700,"h":4120,"l":3690,"c":4090,"v":25.3},
{"d":"2017-09-19","o":4090,"h":4120,"l":3860,"c":3910,"v":19.6},
{"d":"2017-09-20","o":3910,"h":4050,"l":3860,"c":3880,"v":14.3},
{"d":"2017-09-21","o":3880,"h":3900,"l":3560,"c":3620,"v":21.8},
{"d":"2017-09-22","o":3620,"h":3760,"l":3520,"c":3620,"v":19.2},
{"d":"2017-09-23","o":3620,"h":3810,"l":3580,"c":3790,"v":12.1},
{"d":"2017-09-24","o":3790,"h":3790,"l":3640,"c":3680,"v":8.9},
{"d":"2017-09-25","o":3680,"h":3970,"l":3670,"c":3920,"v":17.1},
{"d":"2017-09-26","o":3920,"h":3990,"l":3860,"c":3890,"v":12.7},
{"d":"2017-09-27","o":3890,"h":4220,"l":3880,"c":4200,"v":18.6},
{"d":"2017-09-28","o":4200,"h":4260,"l":4120,"c":4190,"v":16.3},
{"d":"2017-09-29","o":4190,"h":4220,"l":4030,"c":4170,"v":15.8},
{"d":"2017-09-30","o":4170,"h":4360,"l":4150,"c":4340,"v":10.6},
{"d":"2017-10-01","o":4340,"h":4410,"l":4280,"c":4400,"v":8.6},
{"d":"2017-10-02","o":4400,"h":4470,"l":4370,"c":4400,"v":10.9},
{"d":"2017-10-03","o":4400,"h":4430,"l":4250,"c":4320,"v":12.4},
{"d":"2017-10-04","o":4320,"h":4350,"l":4180,"c":4220,"v":11.9},
{"d":"2017-10-05","o":4220,"h":4350,"l":4160,"c":4320,"v":13.2},
{"d":"2017-10-06","o":4320,"h":4420,"l":4310,"c":4370,"v":10.2},
{"d":"2017-10-07","o":4370,"h":4460,"l":4290,"c":4440,"v":7.8},
{"d":"2017-10-08","o":4440,"h":4620,"l":4420,"c":4600,"v":11.4},
{"d":"2017-10-09","o":4600,"h":4880,"l":4560,"c":4780,"v":18.5},
{"d":"2017-10-10","o":4780,"h":4920,"l":4720,"c":4760,"v":18.7},
{"d":"2017-10-11","o":4760,"h":4880,"l":4740,"c":4820,"v":13.6},
{"d":"2017-10-12","o":4820,"h":5450,"l":4810,"c":5430,"v":31.4},
{"d":"2017-10-13","o":5430,"h":5860,"l":5380,"c":5650,"v":36.1},
{"d":"2017-10-14","o":5650,"h":5850,"l":5570,"c":5830,"v":15.7},
{"d":"2017-10-15","o":5830,"h":5860,"l":5450,"c":5700,"v":20.4},
{"d":"2017-10-16","o":5700,"h":5780,"l":5560,"c":5760,"v":14.5},
{"d":"2017-10-17","o":5760,"h":5770,"l":5510,"c":5600,"v":15.3},
{"d":"2017-10-18","o":5600,"h":5610,"l":5110,"c":5570,"v":24.6},
{"d":"2017-10-19","o":5570,"h":5730,"l":5510,"c":5710,"v":13.9},
{"d":"2017-10-20","o":5710,"h":6060,"l":5640,"c":6000,"v":20.3},
{"d":"2017-10-21","o":6000,"h":6190,"l":5920,"c":6000,"v":19.1},
{"d":"2017-10-22","o":6000,"h":6060,"l":5740,"c":5980,"v":15.7},
{"d":"2017-10-23","o":5980,"h":6050,"l":5650,"c":5890,"v":19.8},
{"d":"2017-10-24","o":5890,"h":5900,"l":5460,"c":5510,"v":22.6},
{"d":"2017-10-25","o":5510,"h":5780,"l":5450,"c":5730,"v":18.4},
{"d":"2017-10-26","o":5730,"h":5980,"l":5700,"c":5880,"v":15.0},
{"d":"2017-10-27","o":5880,"h":6000,"l":5700,"c":5760,"v":13.4},
{"d":"2017-10-28","o":5760,"h":5860,"l":5680,"c":5750,"v":8.8},
{"d":"2017-10-29","o":5750,"h":6280,"l":5720,"c":6150,"v":22.3},
{"d":"2017-10-30","o":6150,"h":6200,"l":6020,"c":6120,"v":14.5},
{"d":"2017-10-31","o":6120,"h":6470,"l":6100,"c":6450,"v":19.6},
{"d":"2017-11-01","o":6450,"h":6770,"l":6380,"c":6740,"v":25.8},
{"d":"2017-11-02","o":6740,"h":7380,"l":6730,"c":7030,"v":41.5},
{"d":"2017-11-03","o":7030,"h":7450,"l":6960,"c":7150,"v":29.6},
{"d":"2017-11-04","o":7150,"h":7490,"l":6950,"c":7390,"v":22.4},
{"d":"2017-11-05","o":7390,"h":7600,"l":7320,"c":7400,"v":16.7},
{"d":"2017-11-06","o":7400,"h":7420,"l":6960,"c":6990,"v":22.3},
{"d":"2017-11-07","o":6990,"h":7200,"l":6950,"c":7120,"v":18.1},
{"d":"2017-11-08","o":7120,"h":7880,"l":7060,"c":7450,"v":36.9},
{"d":"2017-11-09","o":7450,"h":7460,"l":7050,"c":7150,"v":22.1},
{"d":"2017-11-10","o":7150,"h":7300,"l":6420,"c":6600,"v":34.5},
{"d":"2017-11-11","o":6600,"h":6830,"l":6280,"c":6350,"v":24.0},
{"d":"2017-11-12","o":6350,"h":6480,"l":5500,"c":5880,"v":50.2},
{"d":"2017-11-13","o":5880,"h":6740,"l":5840,"c":6530,"v":34.8},
{"d":"2017-11-14","o":6530,"h":6700,"l":6440,"c":6600,"v":19.2},
{"d":"2017-11-15","o":6600,"h":7330,"l":6590,"c":7280,"v":26.7},
{"d":"2017-11-16","o":7280,"h":7950,"l":7130,"c":7850,"v":31.2},
{"d":"2017-11-17","o":7850,"h":8000,"l":7510,"c":7700,"v":25.3},
{"d":"2017-11-18","o":7700,"h":7860,"l":7450,"c":7790,"v":14.6},
{"d":"2017-11-19","o":7790,"h":8100,"l":7700,"c":8040,"v":13.8},
{"d":"2017-11-20","o":8040,"h":8290,"l":7950,"c":8240,"v":17.9},
{"d":"2017-11-21","o":8240,"h":8380,"l":7790,"c":8100,"v":26.0},
{"d":"2017-11-22","o":8100,"h":8300,"l":8090,"c":8230,"v":13.7},
{"d":"2017-11-23","o":8230,"h":8270,"l":7880,"c":7989,"v":17.5},
{"d":"2017-11-24","o":7989,"h":8117,"l":7876,"c":8043,"v":8.2}
]},
"encoding":{"x":{"field":"d","type":"temporal","scale":{"type":"utc","domain":[{"year":2016,"month":9,"date":1,"utc":true},{"year":2018,"month":2,"date":7,"utc":true}]},
"axis":{"title":null,"grid":true,"gridColor":"#ececec","domainColor":"#9a9a9a","tickColor":"#9a9a9a","tickSize":3,"labelFontSize":5.5,"labelColor":"#555","labelPadding":1,"labelOverlap":false,"tickCount":40,
"values":[{"year":2016,"month":10,"date":1,"utc":true},{"year":2016,"month":11,"date":1,"utc":true},{"year":2016,"month":12,"date":1,"utc":true},{"year":2017,"month":1,"date":1,"utc":true},{"year":2017,"month":2,"date":1,"utc":true},{"year":2017,"month":3,"date":1,"utc":true},{"year":2017,"month":4,"date":1,"utc":true},{"year":2017,"month":5,"date":1,"utc":true},{"year":2017,"month":6,"date":1,"utc":true},{"year":2017,"month":7,"date":1,"utc":true},{"year":2017,"month":8,"date":1,"utc":true},{"year":2017,"month":9,"date":1,"utc":true},{"year":2017,"month":10,"date":1,"utc":true},{"year":2017,"month":11,"date":1,"utc":true},{"year":2017,"month":12,"date":1,"utc":true},{"year":2018,"month":1,"date":1,"utc":true},{"year":2018,"month":2,"date":1,"utc":true}],
"labelExpr":"utcmonth(datum.value)==0 ? ''+utcyear(datum.value) : ['Янв','Фев','Мар','Апр','Май','Июн','Июл','Авг','Сен','Окт','Ноя','Дек'][utcmonth(datum.value)]"}}},
"layer":[
{"data":{"name":"btc"},"layer":[
{"transform":[{"filter":"datum.c==8043"}],"mark":{"type":"text","font":"Liberation Sans","fontSize":42,"color":"#f2f2f2","align":"center","baseline":"middle"},
 "encoding":{"x":{"datum":{"year":2017,"month":5,"date":26,"utc":true},"type":"temporal","scale":{"type":"utc","domain":[{"year":2016,"month":9,"date":1,"utc":true},{"year":2018,"month":2,"date":7,"utc":true}]}},"y":{"datum":4819,"type":"quantitative","scale":{"domain":[162,8819],"zero":false,"nice":false},
   "axis":{"orient":"right","title":null,"tickCount":40,"values":[400,800,1200,1600,2000,2400,2800,3200,3600,4000,4400,4800,5200,5600,6000,6400,6800,7200,7600,8000,8400],"format":".2f","labelOverlap":false,"labelExpr":"datum.value==8000 ? '' : datum.label"}},"text":{"value":"BTCUSD, Д"}}},
{"transform":[{"filter":"datum.c==8043"}],"mark":{"type":"text","font":"Liberation Sans","fontSize":22,"color":"#f2f2f2","align":"center","baseline":"middle"},
 "encoding":{"x":{"datum":{"year":2017,"month":5,"date":22,"utc":true},"type":"temporal","scale":{"type":"utc","domain":[{"year":2016,"month":9,"date":1,"utc":true},{"year":2018,"month":2,"date":7,"utc":true}]}},"y":{"datum":3860,"type":"quantitative","scale":{"domain":[162,8819],"zero":false,"nice":false}},"text":{"value":"Bitcoin / Dollar"}}},
{"mark":{"type":"rule","color":"#85858a","strokeWidth":0.8},
 "encoding":{"y":{"field":"l","type":"quantitative","scale":{"domain":[162,8819],"zero":false,"nice":false}},"y2":{"field":"h"}}},
{"mark":{"type":"bar","width":1.2,"strokeWidth":0.4},
 "encoding":{"y":{"field":"o","type":"quantitative","scale":{"domain":[162,8819],"zero":false,"nice":false}},"y2":{"field":"c"},
   "fill":{"condition":{"test":"datum.c>=datum.o","value":"#4f9a72"},"value":"#c44b3b"},
   "stroke":{"condition":{"test":"datum.c>=datum.o","value":"#225437"},"value":"#5b1a13"}}},
{"transform":[{"filter":"datum.c==8043"}],"mark":{"type":"text","font":"Liberation Sans","fontSize":5.5,"color":"#444","align":"left","baseline":"middle"},
 "encoding":{"x":{"datum":{"year":2016,"month":9,"date":5,"utc":true},"type":"temporal","scale":{"type":"utc","domain":[{"year":2016,"month":9,"date":1,"utc":true},{"year":2018,"month":2,"date":7,"utc":true}]}},"y":{"datum":8655,"type":"quantitative","scale":{"domain":[162,8819],"zero":false,"nice":false}},"text":{"value":"Bitcoin / Dollar, Д, BITSTAMP"}}},
{"transform":[{"filter":"datum.c==8043"}],"mark":{"type":"text","font":"Liberation Sans","fontSize":5.5,"color":"#777","align":"left","baseline":"middle"},
 "encoding":{"x":{"datum":{"year":2016,"month":9,"date":5,"utc":true},"type":"temporal","scale":{"type":"utc","domain":[{"year":2016,"month":9,"date":1,"utc":true},{"year":2018,"month":2,"date":7,"utc":true}]}},"y":{"datum":8435,"type":"quantitative","scale":{"domain":[162,8819],"zero":false,"nice":false}},"text":{"value":"Объем (20)"}}},
{"transform":[{"filter":"datum.c==8043"}],"mark":{"type":"rect","color":"#6ba583","clip":false},
 "encoding":{"x":{"datum":{"year":2018,"month":2,"date":8,"utc":true},"type":"temporal","scale":{"type":"utc","domain":[{"year":2016,"month":9,"date":1,"utc":true},{"year":2018,"month":2,"date":7,"utc":true}]}},"x2":{"datum":{"year":2018,"month":2,"date":26,"utc":true}},"y":{"datum":8210,"type":"quantitative","scale":{"domain":[162,8819],"zero":false,"nice":false}},"y2":{"datum":7880}}},
{"transform":[{"filter":"datum.c==8043"}],"mark":{"type":"text","font":"Liberation Sans","fontSize":5.3,"color":"white","align":"center","baseline":"middle"},
 "encoding":{"x":{"datum":{"year":2018,"month":2,"date":17,"utc":true},"type":"temporal","scale":{"type":"utc","domain":[{"year":2016,"month":9,"date":1,"utc":true},{"year":2018,"month":2,"date":7,"utc":true}]}},"y":{"datum":8043,"type":"quantitative","scale":{"domain":[162,8819],"zero":false,"nice":false}},"text":{"value":"8043.29"}}},
{"transform":[{"filter":"datum.c==8043"}],"mark":{"type":"rect","color":"#f0f3f7","clip":false},
 "encoding":{"x":{"datum":{"year":2016,"month":8,"date":25,"utc":true},"type":"temporal","scale":{"type":"utc","domain":[{"year":2016,"month":9,"date":1,"utc":true},{"year":2018,"month":2,"date":7,"utc":true}]}},"x2":{"datum":{"year":2018,"month":3,"date":10,"utc":true}},"y":{"datum":-140,"type":"quantitative","scale":{"domain":[162,8819],"zero":false,"nice":false}},"y2":{"datum":-800}}},
{"transform":[{"filter":"datum.c==8043"}],"mark":{"type":"text","font":"Liberation Sans","fontSize":5,"color":"#333","align":"left","baseline":"middle"},
 "encoding":{"x":{"datum":{"year":2016,"month":9,"date":2,"utc":true},"type":"temporal","scale":{"type":"utc","domain":[{"year":2016,"month":9,"date":1,"utc":true},{"year":2018,"month":2,"date":7,"utc":true}]}},"y":{"datum":-304,"type":"quantitative","scale":{"domain":[162,8819],"zero":false,"nice":false}},"text":{"value":"Создано при помощи"}}},
{"transform":[{"filter":"datum.c==8043"}],"mark":{"type":"text","font":"DejaVu Sans","fontSize":7,"color":"#3c9fd8","align":"left","baseline":"middle"},
 "encoding":{"x":{"datum":{"year":2016,"month":10,"date":22,"utc":true},"type":"temporal","scale":{"type":"utc","domain":[{"year":2016,"month":9,"date":1,"utc":true},{"year":2018,"month":2,"date":7,"utc":true}]}},"y":{"datum":-304,"type":"quantitative","scale":{"domain":[162,8819],"zero":false,"nice":false}},"text":{"value":"☁"}}},
{"transform":[{"filter":"datum.c==8043"}],"mark":{"type":"text","font":"Liberation Sans","fontSize":5.3,"color":"#3c9fd8","align":"left","baseline":"middle"},
 "encoding":{"x":{"datum":{"year":2016,"month":10,"date":31,"utc":true},"type":"temporal","scale":{"type":"utc","domain":[{"year":2016,"month":9,"date":1,"utc":true},{"year":2018,"month":2,"date":7,"utc":true}]}},"y":{"datum":-304,"type":"quantitative","scale":{"domain":[162,8819],"zero":false,"nice":false}},"text":{"value":"TradingView"}}}
]},
{"data":{"name":"btc"},
 "transform":[{"window":[{"op":"mean","field":"v","as":"ma"}],"sort":[{"field":"d"}],"frame":[-19,0]}],
 "layer":[
 {"mark":{"type":"bar","width":1},
  "encoding":{"y":{"field":"v","type":"quantitative","scale":{"domain":[0,200]},"axis":null},
   "color":{"condition":{"test":"datum.c>=datum.o","value":"#b5d2c1"},"value":"#ebaaa0"}}},
 {"mark":{"type":"line","color":"#f3c27a","strokeWidth":1},
  "encoding":{"y":{"field":"ma","type":"quantitative","scale":{"domain":[0,200]},"axis":null}}}
 ]}
],
"resolve":{"scale":{"y":"independent"}}
}
